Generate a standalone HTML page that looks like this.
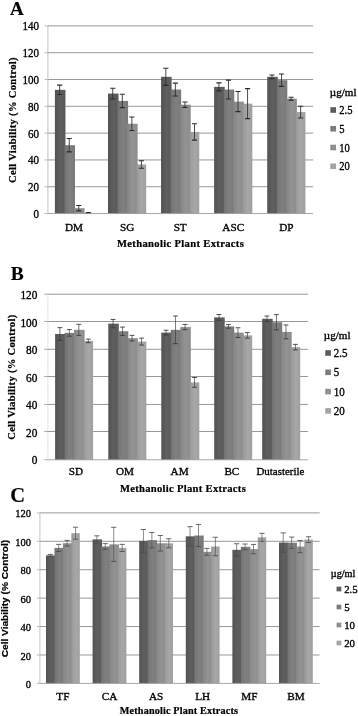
<!DOCTYPE html>
<html><head><meta charset="utf-8"><title>Cell viability</title>
<style>
html,body{margin:0;padding:0;background:#fff;}
body{width:358px;height:716px;overflow:hidden;}
svg{display:block;will-change:transform;filter:grayscale(1);}
text{font-family:"Liberation Serif",serif;fill:#000;stroke:#000;stroke-width:0.34px;}
.t{font-size:12px;}
.tc{font-size:11.2px;}
.c{font-size:11.2px;}
.xt{font-size:10.6px;font-weight:bold;stroke-width:0.22px;}
.xt2{font-size:10.2px;font-weight:bold;stroke-width:0.22px;}
.yt{font-size:10.6px;font-weight:bold;stroke-width:0.22px;}
.ys{font-family:"Liberation Sans",sans-serif;font-size:8.8px;font-weight:bold;stroke-width:0.2px;}
.L{stroke-width:0.15px;font-weight:bold;fill:#000;}
</style></head><body>
<svg width="358" height="716" viewBox="0 0 358 716">
<defs><linearGradient id="g0" x1="0" x2="1" y1="0" y2="0"><stop offset="0" stop-color="#525252"/><stop offset="0.5" stop-color="#5f5f5f"/><stop offset="1" stop-color="#595959"/></linearGradient><linearGradient id="g1" x1="0" x2="1" y1="0" y2="0"><stop offset="0" stop-color="#727272"/><stop offset="0.5" stop-color="#808080"/><stop offset="1" stop-color="#797979"/></linearGradient><linearGradient id="g2" x1="0" x2="1" y1="0" y2="0"><stop offset="0" stop-color="#858585"/><stop offset="0.5" stop-color="#939393"/><stop offset="1" stop-color="#8c8c8c"/></linearGradient><linearGradient id="g3" x1="0" x2="1" y1="0" y2="0"><stop offset="0" stop-color="#999999"/><stop offset="0.5" stop-color="#a7a7a7"/><stop offset="1" stop-color="#a0a0a0"/></linearGradient></defs>
<rect width="358" height="716" fill="#ffffff"/>
<line x1="47.90" y1="186.74" x2="313.20" y2="186.74" stroke="#6c6c6c" stroke-width="0.7"/>
<line x1="47.90" y1="159.93" x2="313.20" y2="159.93" stroke="#6c6c6c" stroke-width="0.7"/>
<line x1="47.90" y1="133.12" x2="313.20" y2="133.12" stroke="#6c6c6c" stroke-width="0.7"/>
<line x1="47.90" y1="106.31" x2="313.20" y2="106.31" stroke="#6c6c6c" stroke-width="0.7"/>
<line x1="47.90" y1="79.50" x2="313.20" y2="79.50" stroke="#6c6c6c" stroke-width="0.7"/>
<line x1="47.90" y1="52.69" x2="313.20" y2="52.69" stroke="#6c6c6c" stroke-width="0.7"/>
<line x1="47.90" y1="25.88" x2="313.20" y2="25.88" stroke="#6c6c6c" stroke-width="0.7"/>
<rect x="54.90" y="89.82" width="10.55" height="123.73" fill="url(#g0)"/>
<rect x="64.45" y="145.18" width="10.55" height="68.37" fill="url(#g1)"/>
<rect x="74.00" y="208.19" width="10.55" height="5.36" fill="url(#g2)"/>
<rect x="83.55" y="212.88" width="9.55" height="0.67" fill="url(#g3)"/>
<path d="M59.67 85.13V94.51" stroke="#2a2a2a" stroke-width="0.85" fill="none"/>
<path d="M57.12 85.13H62.22M57.12 94.51H62.22" stroke="#2a2a2a" stroke-width="1.10" fill="none"/>
<path d="M69.23 138.48V151.89" stroke="#2a2a2a" stroke-width="0.85" fill="none"/>
<path d="M66.68 138.48H71.78M66.68 151.89H71.78" stroke="#2a2a2a" stroke-width="1.10" fill="none"/>
<path d="M78.78 205.51V210.87" stroke="#2a2a2a" stroke-width="0.85" fill="none"/>
<path d="M76.23 205.51H81.33M76.23 210.87H81.33" stroke="#2a2a2a" stroke-width="1.10" fill="none"/>
<path d="M88.33 212.48V213.28" stroke="#2a2a2a" stroke-width="0.85" fill="none"/>
<path d="M85.78 212.48H90.88M85.78 213.28H90.88" stroke="#2a2a2a" stroke-width="1.10" fill="none"/>
<rect x="107.98" y="93.58" width="10.55" height="119.97" fill="url(#g0)"/>
<rect x="117.53" y="100.95" width="10.55" height="112.60" fill="url(#g1)"/>
<rect x="127.08" y="123.74" width="10.55" height="89.81" fill="url(#g2)"/>
<rect x="136.63" y="164.49" width="9.55" height="49.06" fill="url(#g3)"/>
<path d="M112.75 88.21V98.94" stroke="#2a2a2a" stroke-width="0.85" fill="none"/>
<path d="M110.20 88.21H115.30M110.20 98.94H115.30" stroke="#2a2a2a" stroke-width="1.10" fill="none"/>
<path d="M122.30 94.25V107.65" stroke="#2a2a2a" stroke-width="0.85" fill="none"/>
<path d="M119.75 94.25H124.85M119.75 107.65H124.85" stroke="#2a2a2a" stroke-width="1.10" fill="none"/>
<path d="M131.85 117.03V130.44" stroke="#2a2a2a" stroke-width="0.85" fill="none"/>
<path d="M129.30 117.03H134.41M129.30 130.44H134.41" stroke="#2a2a2a" stroke-width="1.10" fill="none"/>
<path d="M141.41 160.73V168.24" stroke="#2a2a2a" stroke-width="0.85" fill="none"/>
<path d="M138.85 160.73H143.96M138.85 168.24H143.96" stroke="#2a2a2a" stroke-width="1.10" fill="none"/>
<rect x="161.06" y="76.82" width="10.55" height="136.73" fill="url(#g0)"/>
<rect x="170.61" y="89.55" width="10.55" height="124.00" fill="url(#g1)"/>
<rect x="180.16" y="104.70" width="10.55" height="108.85" fill="url(#g2)"/>
<rect x="189.71" y="131.91" width="9.55" height="81.64" fill="url(#g3)"/>
<path d="M165.84 68.24V85.40" stroke="#2a2a2a" stroke-width="0.85" fill="none"/>
<path d="M163.28 68.24H168.39M163.28 85.40H168.39" stroke="#2a2a2a" stroke-width="1.10" fill="none"/>
<path d="M175.39 83.12V95.99" stroke="#2a2a2a" stroke-width="0.85" fill="none"/>
<path d="M172.84 83.12H177.94M172.84 95.99H177.94" stroke="#2a2a2a" stroke-width="1.10" fill="none"/>
<path d="M184.94 102.02V107.38" stroke="#2a2a2a" stroke-width="0.85" fill="none"/>
<path d="M182.38 102.02H187.49M182.38 107.38H187.49" stroke="#2a2a2a" stroke-width="1.10" fill="none"/>
<path d="M194.49 123.74V140.09" stroke="#2a2a2a" stroke-width="0.85" fill="none"/>
<path d="M191.94 123.74H197.04M191.94 140.09H197.04" stroke="#2a2a2a" stroke-width="1.10" fill="none"/>
<rect x="214.14" y="86.87" width="10.55" height="126.68" fill="url(#g0)"/>
<rect x="223.69" y="89.55" width="10.55" height="124.00" fill="url(#g1)"/>
<rect x="233.24" y="101.62" width="10.55" height="111.93" fill="url(#g2)"/>
<rect x="242.79" y="103.63" width="9.55" height="109.92" fill="url(#g3)"/>
<path d="M218.92 82.85V90.89" stroke="#2a2a2a" stroke-width="0.85" fill="none"/>
<path d="M216.37 82.85H221.47M216.37 90.89H221.47" stroke="#2a2a2a" stroke-width="1.10" fill="none"/>
<path d="M228.47 80.17V98.94" stroke="#2a2a2a" stroke-width="0.85" fill="none"/>
<path d="M225.92 80.17H231.02M225.92 98.94H231.02" stroke="#2a2a2a" stroke-width="1.10" fill="none"/>
<path d="M238.02 91.56V111.67" stroke="#2a2a2a" stroke-width="0.85" fill="none"/>
<path d="M235.47 91.56H240.57M235.47 111.67H240.57" stroke="#2a2a2a" stroke-width="1.10" fill="none"/>
<path d="M247.57 88.62V118.64" stroke="#2a2a2a" stroke-width="0.85" fill="none"/>
<path d="M245.02 88.62H250.12M245.02 118.64H250.12" stroke="#2a2a2a" stroke-width="1.10" fill="none"/>
<rect x="267.22" y="76.82" width="10.55" height="136.73" fill="url(#g0)"/>
<rect x="276.77" y="80.17" width="10.55" height="133.38" fill="url(#g1)"/>
<rect x="286.32" y="98.67" width="10.55" height="114.88" fill="url(#g2)"/>
<rect x="295.87" y="112.07" width="9.55" height="101.48" fill="url(#g3)"/>
<path d="M271.99 74.94V78.70" stroke="#2a2a2a" stroke-width="0.85" fill="none"/>
<path d="M269.44 74.94H274.54M269.44 78.70H274.54" stroke="#2a2a2a" stroke-width="1.10" fill="none"/>
<path d="M281.54 74.00V86.34" stroke="#2a2a2a" stroke-width="0.85" fill="none"/>
<path d="M278.99 74.00H284.09M278.99 86.34H284.09" stroke="#2a2a2a" stroke-width="1.10" fill="none"/>
<path d="M291.09 97.19V100.14" stroke="#2a2a2a" stroke-width="0.85" fill="none"/>
<path d="M288.54 97.19H293.64M288.54 100.14H293.64" stroke="#2a2a2a" stroke-width="1.10" fill="none"/>
<path d="M300.64 106.18V117.97" stroke="#2a2a2a" stroke-width="0.85" fill="none"/>
<path d="M298.09 106.18H303.19M298.09 117.97H303.19" stroke="#2a2a2a" stroke-width="1.10" fill="none"/>
<line x1="47.90" y1="25.88" x2="47.90" y2="213.55" stroke="#b4b4b4" stroke-width="0.8"/>
<line x1="47.90" y1="213.55" x2="313.20" y2="213.55" stroke="#9c9c9c" stroke-width="0.9"/>
<line x1="44.70" y1="213.55" x2="47.90" y2="213.55" stroke="#b0b0b0" stroke-width="0.9"/>
<text x="38.90" y="218.00" text-anchor="end" class="t" textLength="5.50" lengthAdjust="spacingAndGlyphs">0</text>
<line x1="44.70" y1="186.74" x2="47.90" y2="186.74" stroke="#b0b0b0" stroke-width="0.9"/>
<text x="38.90" y="191.35" text-anchor="end" class="t" textLength="11.00" lengthAdjust="spacingAndGlyphs">20</text>
<line x1="44.70" y1="159.93" x2="47.90" y2="159.93" stroke="#b0b0b0" stroke-width="0.9"/>
<text x="38.90" y="164.35" text-anchor="end" class="t" textLength="11.00" lengthAdjust="spacingAndGlyphs">40</text>
<line x1="44.70" y1="133.12" x2="47.90" y2="133.12" stroke="#b0b0b0" stroke-width="0.9"/>
<text x="38.90" y="137.75" text-anchor="end" class="t" textLength="11.00" lengthAdjust="spacingAndGlyphs">60</text>
<line x1="44.70" y1="106.31" x2="47.90" y2="106.31" stroke="#b0b0b0" stroke-width="0.9"/>
<text x="38.90" y="110.75" text-anchor="end" class="t" textLength="11.00" lengthAdjust="spacingAndGlyphs">80</text>
<line x1="44.70" y1="79.50" x2="47.90" y2="79.50" stroke="#b0b0b0" stroke-width="0.9"/>
<text x="38.90" y="83.75" text-anchor="end" class="t" textLength="16.50" lengthAdjust="spacingAndGlyphs">100</text>
<line x1="44.70" y1="52.69" x2="47.90" y2="52.69" stroke="#b0b0b0" stroke-width="0.9"/>
<text x="38.90" y="56.95" text-anchor="end" class="t" textLength="16.50" lengthAdjust="spacingAndGlyphs">120</text>
<line x1="44.70" y1="25.88" x2="47.90" y2="25.88" stroke="#b0b0b0" stroke-width="0.9"/>
<text x="38.90" y="30.00" text-anchor="end" class="t" textLength="16.50" lengthAdjust="spacingAndGlyphs">140</text>
<text x="74.00" y="230.80" text-anchor="middle" class="c">DM</text>
<text x="127.08" y="230.80" text-anchor="middle" class="c">SG</text>
<text x="180.16" y="230.80" text-anchor="middle" class="c">ST</text>
<text x="233.24" y="230.80" text-anchor="middle" class="c">ASC</text>
<text x="286.32" y="230.80" text-anchor="middle" class="c">DP</text>
<text x="117.00" y="246.70" class="xt" textLength="126.8" lengthAdjust="spacing">Methanolic Plant Extracts</text>
<text transform="translate(16.20 183.00) rotate(-90)" class="yt" textLength="125.6" lengthAdjust="spacing">Cell Viability (% Control)</text>
<text x="10.00" y="15.20" class="L" font-size="19">A</text>
<text x="329.80" y="95.90" font-size="10.4" textLength="26.7" lengthAdjust="spacingAndGlyphs">µg/ml</text>
<rect x="330.40" y="107.20" width="5.6" height="5.6" fill="url(#g0)"/>
<text x="339.30" y="114.00" class="t" textLength="13.25" lengthAdjust="spacingAndGlyphs">2.5</text>
<rect x="330.40" y="125.95" width="5.6" height="5.6" fill="url(#g1)"/>
<text x="339.30" y="132.75" class="t" textLength="5.30" lengthAdjust="spacingAndGlyphs">5</text>
<rect x="330.40" y="144.70" width="5.6" height="5.6" fill="url(#g2)"/>
<text x="339.30" y="151.50" class="t" textLength="10.60" lengthAdjust="spacingAndGlyphs">10</text>
<rect x="330.40" y="163.45" width="5.6" height="5.6" fill="url(#g3)"/>
<text x="339.30" y="170.25" class="t" textLength="10.60" lengthAdjust="spacingAndGlyphs">20</text>
<line x1="47.90" y1="431.50" x2="308.00" y2="431.50" stroke="#6c6c6c" stroke-width="0.7"/>
<line x1="47.90" y1="404.45" x2="308.00" y2="404.45" stroke="#6c6c6c" stroke-width="0.7"/>
<line x1="47.90" y1="376.50" x2="308.00" y2="376.50" stroke="#6c6c6c" stroke-width="0.7"/>
<line x1="47.90" y1="349.30" x2="308.00" y2="349.30" stroke="#6c6c6c" stroke-width="0.7"/>
<line x1="47.90" y1="321.50" x2="308.00" y2="321.50" stroke="#6c6c6c" stroke-width="0.7"/>
<line x1="47.90" y1="294.20" x2="308.00" y2="294.20" stroke="#6c6c6c" stroke-width="0.7"/>
<rect x="55.10" y="333.99" width="10.50" height="125.81" fill="url(#g0)"/>
<rect x="64.60" y="332.89" width="10.50" height="126.91" fill="url(#g1)"/>
<rect x="74.10" y="329.85" width="10.50" height="129.95" fill="url(#g2)"/>
<rect x="83.60" y="340.91" width="9.50" height="118.89" fill="url(#g3)"/>
<path d="M59.85 327.63V340.35" stroke="#383838" stroke-width="0.68" fill="none"/>
<path d="M57.45 327.63H62.25M57.45 340.35H62.25" stroke="#383838" stroke-width="0.88" fill="none"/>
<path d="M69.35 329.57V336.20" stroke="#383838" stroke-width="0.68" fill="none"/>
<path d="M66.95 329.57H71.75M66.95 336.20H71.75" stroke="#383838" stroke-width="0.88" fill="none"/>
<path d="M78.85 324.32V335.38" stroke="#383838" stroke-width="0.68" fill="none"/>
<path d="M76.45 324.32H81.25M76.45 335.38H81.25" stroke="#383838" stroke-width="0.88" fill="none"/>
<path d="M88.35 339.11V342.70" stroke="#383838" stroke-width="0.68" fill="none"/>
<path d="M85.95 339.11H90.75M85.95 342.70H90.75" stroke="#383838" stroke-width="0.88" fill="none"/>
<rect x="108.30" y="323.62" width="10.50" height="136.18" fill="url(#g0)"/>
<rect x="117.80" y="331.23" width="10.50" height="128.57" fill="url(#g1)"/>
<rect x="127.30" y="338.14" width="10.50" height="121.66" fill="url(#g2)"/>
<rect x="136.80" y="341.60" width="9.50" height="118.20" fill="url(#g3)"/>
<path d="M113.05 319.48V327.77" stroke="#383838" stroke-width="0.68" fill="none"/>
<path d="M110.65 319.48H115.45M110.65 327.77H115.45" stroke="#383838" stroke-width="0.88" fill="none"/>
<path d="M122.55 327.08V335.38" stroke="#383838" stroke-width="0.68" fill="none"/>
<path d="M120.15 327.08H124.95M120.15 335.38H124.95" stroke="#383838" stroke-width="0.88" fill="none"/>
<path d="M132.05 335.38V340.91" stroke="#383838" stroke-width="0.68" fill="none"/>
<path d="M129.65 335.38H134.45M129.65 340.91H134.45" stroke="#383838" stroke-width="0.88" fill="none"/>
<path d="M141.55 338.14V345.05" stroke="#383838" stroke-width="0.68" fill="none"/>
<path d="M139.15 338.14H143.95M139.15 345.05H143.95" stroke="#383838" stroke-width="0.88" fill="none"/>
<rect x="161.30" y="332.61" width="10.50" height="127.19" fill="url(#g0)"/>
<rect x="170.80" y="329.85" width="10.50" height="129.95" fill="url(#g1)"/>
<rect x="180.30" y="327.08" width="10.50" height="132.72" fill="url(#g2)"/>
<rect x="189.80" y="382.38" width="9.50" height="77.42" fill="url(#g3)"/>
<path d="M166.05 330.26V334.96" stroke="#383838" stroke-width="0.68" fill="none"/>
<path d="M163.65 330.26H168.45M163.65 334.96H168.45" stroke="#383838" stroke-width="0.88" fill="none"/>
<path d="M175.55 316.02V343.67" stroke="#383838" stroke-width="0.68" fill="none"/>
<path d="M173.15 316.02H177.95M173.15 343.67H177.95" stroke="#383838" stroke-width="0.88" fill="none"/>
<path d="M185.05 324.45V329.71" stroke="#383838" stroke-width="0.68" fill="none"/>
<path d="M182.65 324.45H187.45M182.65 329.71H187.45" stroke="#383838" stroke-width="0.88" fill="none"/>
<path d="M194.55 377.54V387.22" stroke="#383838" stroke-width="0.68" fill="none"/>
<path d="M192.15 377.54H196.95M192.15 387.22H196.95" stroke="#383838" stroke-width="0.88" fill="none"/>
<rect x="214.20" y="317.40" width="10.50" height="142.40" fill="url(#g0)"/>
<rect x="223.70" y="326.39" width="10.50" height="133.41" fill="url(#g1)"/>
<rect x="233.20" y="332.61" width="10.50" height="127.19" fill="url(#g2)"/>
<rect x="242.70" y="335.38" width="9.50" height="124.43" fill="url(#g3)"/>
<path d="M218.95 314.50V320.31" stroke="#383838" stroke-width="0.68" fill="none"/>
<path d="M216.55 314.50H221.35M216.55 320.31H221.35" stroke="#383838" stroke-width="0.88" fill="none"/>
<path d="M228.45 324.59V328.19" stroke="#383838" stroke-width="0.68" fill="none"/>
<path d="M226.05 324.59H230.85M226.05 328.19H230.85" stroke="#383838" stroke-width="0.88" fill="none"/>
<path d="M237.95 327.77V337.45" stroke="#383838" stroke-width="0.68" fill="none"/>
<path d="M235.55 327.77H240.35M235.55 337.45H240.35" stroke="#383838" stroke-width="0.88" fill="none"/>
<path d="M247.45 332.61V338.14" stroke="#383838" stroke-width="0.68" fill="none"/>
<path d="M245.05 332.61H249.85M245.05 338.14H249.85" stroke="#383838" stroke-width="0.88" fill="none"/>
<rect x="262.20" y="318.79" width="10.50" height="141.01" fill="url(#g0)"/>
<rect x="271.70" y="322.24" width="10.50" height="137.56" fill="url(#g1)"/>
<rect x="281.20" y="331.92" width="10.50" height="127.88" fill="url(#g2)"/>
<rect x="290.70" y="347.13" width="9.50" height="112.67" fill="url(#g3)"/>
<path d="M266.95 316.02V321.55" stroke="#383838" stroke-width="0.68" fill="none"/>
<path d="M264.55 316.02H269.35M264.55 321.55H269.35" stroke="#383838" stroke-width="0.88" fill="none"/>
<path d="M276.45 314.64V329.85" stroke="#383838" stroke-width="0.68" fill="none"/>
<path d="M274.05 314.64H278.85M274.05 329.85H278.85" stroke="#383838" stroke-width="0.88" fill="none"/>
<path d="M285.95 325.01V338.83" stroke="#383838" stroke-width="0.68" fill="none"/>
<path d="M283.55 325.01H288.35M283.55 338.83H288.35" stroke="#383838" stroke-width="0.88" fill="none"/>
<path d="M295.45 344.36V349.89" stroke="#383838" stroke-width="0.68" fill="none"/>
<path d="M293.05 344.36H297.85M293.05 349.89H297.85" stroke="#383838" stroke-width="0.88" fill="none"/>
<line x1="47.90" y1="293.90" x2="47.90" y2="459.80" stroke="#c4c4c4" stroke-width="0.8" stroke-dasharray="1 0.7"/>
<line x1="47.90" y1="459.80" x2="308.00" y2="459.80" stroke="#9c9c9c" stroke-width="0.9"/>
<line x1="44.30" y1="459.80" x2="47.90" y2="459.80" stroke="#9c9c9c" stroke-width="0.9"/>
<text x="37.40" y="464.15" text-anchor="end" class="t" textLength="5.65" lengthAdjust="spacingAndGlyphs">0</text>
<line x1="44.30" y1="431.50" x2="47.90" y2="431.50" stroke="#9c9c9c" stroke-width="0.9"/>
<text x="37.40" y="436.65" text-anchor="end" class="t" textLength="11.30" lengthAdjust="spacingAndGlyphs">20</text>
<line x1="44.30" y1="404.45" x2="47.90" y2="404.45" stroke="#9c9c9c" stroke-width="0.9"/>
<text x="37.40" y="409.15" text-anchor="end" class="t" textLength="11.30" lengthAdjust="spacingAndGlyphs">40</text>
<line x1="44.30" y1="376.50" x2="47.90" y2="376.50" stroke="#9c9c9c" stroke-width="0.9"/>
<text x="37.40" y="381.65" text-anchor="end" class="t" textLength="11.30" lengthAdjust="spacingAndGlyphs">60</text>
<line x1="44.30" y1="349.30" x2="47.90" y2="349.30" stroke="#9c9c9c" stroke-width="0.9"/>
<text x="37.40" y="354.15" text-anchor="end" class="t" textLength="11.30" lengthAdjust="spacingAndGlyphs">80</text>
<line x1="44.30" y1="321.50" x2="47.90" y2="321.50" stroke="#9c9c9c" stroke-width="0.9"/>
<text x="37.40" y="326.65" text-anchor="end" class="t" textLength="16.95" lengthAdjust="spacingAndGlyphs">100</text>
<line x1="44.30" y1="294.20" x2="47.90" y2="294.20" stroke="#9c9c9c" stroke-width="0.9"/>
<text x="37.40" y="299.15" text-anchor="end" class="t" textLength="16.95" lengthAdjust="spacingAndGlyphs">120</text>
<text x="76.00" y="474.80" text-anchor="middle" class="c">SD</text>
<text x="124.90" y="474.80" text-anchor="middle" class="c">OM</text>
<text x="179.60" y="474.80" text-anchor="middle" class="c">AM</text>
<text x="231.85" y="474.80" text-anchor="middle" class="c">BC</text>
<text x="280.45" y="474.80" text-anchor="middle" class="c" textLength="48.0" lengthAdjust="spacingAndGlyphs">Dutasterile</text>
<text x="120.00" y="492.30" class="xt" textLength="125.8" lengthAdjust="spacing">Methanolic Plant Extracts</text>
<text transform="translate(14.90 439.80) rotate(-90)" class="yt" textLength="125.0" lengthAdjust="spacing">Cell Viability (% Control)</text>
<text x="10.80" y="279.70" class="L" font-size="19.5">B</text>
<text x="323.80" y="338.50" font-size="10.4" textLength="26.7" lengthAdjust="spacingAndGlyphs">µg/ml</text>
<rect x="325.30" y="350.20" width="5.6" height="5.6" fill="url(#g0)"/>
<text x="333.80" y="357.00" class="t" textLength="13.75" lengthAdjust="spacingAndGlyphs">2.5</text>
<rect x="325.30" y="369.50" width="5.6" height="5.6" fill="url(#g1)"/>
<text x="333.80" y="376.30" class="t" textLength="5.50" lengthAdjust="spacingAndGlyphs">5</text>
<rect x="325.30" y="388.80" width="5.6" height="5.6" fill="url(#g2)"/>
<text x="333.80" y="395.60" class="t" textLength="11.00" lengthAdjust="spacingAndGlyphs">10</text>
<rect x="325.30" y="408.10" width="5.6" height="5.6" fill="url(#g3)"/>
<text x="333.80" y="414.90" class="t" textLength="11.00" lengthAdjust="spacingAndGlyphs">20</text>
<line x1="39.90" y1="654.98" x2="319.70" y2="654.98" stroke="#6c6c6c" stroke-width="0.7"/>
<line x1="39.90" y1="626.56" x2="319.70" y2="626.56" stroke="#6c6c6c" stroke-width="0.7"/>
<line x1="39.90" y1="598.14" x2="319.70" y2="598.14" stroke="#6c6c6c" stroke-width="0.7"/>
<line x1="39.90" y1="569.72" x2="319.70" y2="569.72" stroke="#6c6c6c" stroke-width="0.7"/>
<line x1="39.90" y1="541.30" x2="319.70" y2="541.30" stroke="#6c6c6c" stroke-width="0.7"/>
<line x1="39.90" y1="512.88" x2="319.70" y2="512.88" stroke="#6c6c6c" stroke-width="0.7"/>
<rect x="46.00" y="555.44" width="9.45" height="127.96" fill="url(#g0)"/>
<rect x="54.45" y="547.91" width="9.45" height="135.49" fill="url(#g1)"/>
<rect x="62.90" y="543.22" width="9.45" height="140.18" fill="url(#g2)"/>
<rect x="71.35" y="533.20" width="8.45" height="150.20" fill="url(#g3)"/>
<path d="M50.23 554.44V556.43" stroke="#484848" stroke-width="0.64" fill="none"/>
<path d="M47.62 554.44H52.83M47.62 556.43H52.83" stroke="#484848" stroke-width="0.83" fill="none"/>
<path d="M58.68 544.36V551.46" stroke="#484848" stroke-width="0.64" fill="none"/>
<path d="M56.08 544.36H61.28M56.08 551.46H61.28" stroke="#484848" stroke-width="0.83" fill="none"/>
<path d="M67.12 540.38V546.06" stroke="#484848" stroke-width="0.64" fill="none"/>
<path d="M64.53 540.38H69.72M64.53 546.06H69.72" stroke="#484848" stroke-width="0.83" fill="none"/>
<path d="M75.57 527.23V539.17" stroke="#484848" stroke-width="0.64" fill="none"/>
<path d="M72.97 527.23H78.17M72.97 539.17H78.17" stroke="#484848" stroke-width="0.83" fill="none"/>
<rect x="92.60" y="539.38" width="9.45" height="144.02" fill="url(#g0)"/>
<rect x="101.05" y="546.49" width="9.45" height="136.91" fill="url(#g1)"/>
<rect x="109.50" y="544.36" width="9.45" height="139.04" fill="url(#g2)"/>
<rect x="117.95" y="547.91" width="8.45" height="135.49" fill="url(#g3)"/>
<path d="M96.82 535.83V542.93" stroke="#484848" stroke-width="0.64" fill="none"/>
<path d="M94.22 535.83H99.42M94.22 542.93H99.42" stroke="#484848" stroke-width="0.83" fill="none"/>
<path d="M105.27 543.64V549.33" stroke="#484848" stroke-width="0.64" fill="none"/>
<path d="M102.67 543.64H107.87M102.67 549.33H107.87" stroke="#484848" stroke-width="0.83" fill="none"/>
<path d="M113.72 527.30V561.41" stroke="#484848" stroke-width="0.64" fill="none"/>
<path d="M111.12 527.30H116.32M111.12 561.41H116.32" stroke="#484848" stroke-width="0.83" fill="none"/>
<path d="M122.17 544.36V551.46" stroke="#484848" stroke-width="0.64" fill="none"/>
<path d="M119.57 544.36H124.77M119.57 551.46H124.77" stroke="#484848" stroke-width="0.83" fill="none"/>
<rect x="139.20" y="540.87" width="9.45" height="142.53" fill="url(#g0)"/>
<rect x="147.65" y="540.16" width="9.45" height="143.24" fill="url(#g1)"/>
<rect x="156.10" y="543.29" width="9.45" height="140.11" fill="url(#g2)"/>
<rect x="164.55" y="543.29" width="8.45" height="140.11" fill="url(#g3)"/>
<path d="M143.42 529.51V552.24" stroke="#484848" stroke-width="0.64" fill="none"/>
<path d="M140.82 529.51H146.02M140.82 552.24H146.02" stroke="#484848" stroke-width="0.83" fill="none"/>
<path d="M151.87 532.49V547.84" stroke="#484848" stroke-width="0.64" fill="none"/>
<path d="M149.27 532.49H154.47M149.27 547.84H154.47" stroke="#484848" stroke-width="0.83" fill="none"/>
<path d="M160.32 535.47V551.10" stroke="#484848" stroke-width="0.64" fill="none"/>
<path d="M157.72 535.47H162.92M157.72 551.10H162.92" stroke="#484848" stroke-width="0.83" fill="none"/>
<path d="M168.77 538.74V547.84" stroke="#484848" stroke-width="0.64" fill="none"/>
<path d="M166.17 538.74H171.37M166.17 547.84H171.37" stroke="#484848" stroke-width="0.83" fill="none"/>
<rect x="185.80" y="536.33" width="9.45" height="147.07" fill="url(#g0)"/>
<rect x="194.25" y="535.54" width="9.45" height="147.86" fill="url(#g1)"/>
<rect x="202.70" y="551.82" width="9.45" height="131.58" fill="url(#g2)"/>
<rect x="211.15" y="546.49" width="8.45" height="136.91" fill="url(#g3)"/>
<path d="M190.03 526.66V545.99" stroke="#484848" stroke-width="0.64" fill="none"/>
<path d="M187.43 526.66H192.62M187.43 545.99H192.62" stroke="#484848" stroke-width="0.83" fill="none"/>
<path d="M198.47 524.46V546.63" stroke="#484848" stroke-width="0.64" fill="none"/>
<path d="M195.88 524.46H201.07M195.88 546.63H201.07" stroke="#484848" stroke-width="0.83" fill="none"/>
<path d="M206.93 548.40V555.23" stroke="#484848" stroke-width="0.64" fill="none"/>
<path d="M204.33 548.40H209.53M204.33 555.23H209.53" stroke="#484848" stroke-width="0.83" fill="none"/>
<path d="M215.38 537.25V555.72" stroke="#484848" stroke-width="0.64" fill="none"/>
<path d="M212.78 537.25H217.97M212.78 555.72H217.97" stroke="#484848" stroke-width="0.83" fill="none"/>
<rect x="232.40" y="549.83" width="9.45" height="133.57" fill="url(#g0)"/>
<rect x="240.85" y="546.84" width="9.45" height="136.56" fill="url(#g1)"/>
<rect x="249.30" y="549.12" width="9.45" height="134.28" fill="url(#g2)"/>
<rect x="257.75" y="537.32" width="8.45" height="146.08" fill="url(#g3)"/>
<path d="M236.62 543.72V555.94" stroke="#484848" stroke-width="0.64" fill="none"/>
<path d="M234.03 543.72H239.22M234.03 555.94H239.22" stroke="#484848" stroke-width="0.83" fill="none"/>
<path d="M245.07 544.00V549.68" stroke="#484848" stroke-width="0.64" fill="none"/>
<path d="M242.47 544.00H247.67M242.47 549.68H247.67" stroke="#484848" stroke-width="0.83" fill="none"/>
<path d="M253.53 544.43V553.80" stroke="#484848" stroke-width="0.64" fill="none"/>
<path d="M250.93 544.43H256.12M250.93 553.80H256.12" stroke="#484848" stroke-width="0.83" fill="none"/>
<path d="M261.98 533.34V541.30" stroke="#484848" stroke-width="0.64" fill="none"/>
<path d="M259.38 533.34H264.58M259.38 541.30H264.58" stroke="#484848" stroke-width="0.83" fill="none"/>
<rect x="279.00" y="542.58" width="9.45" height="140.82" fill="url(#g0)"/>
<rect x="287.45" y="542.72" width="9.45" height="140.68" fill="url(#g1)"/>
<rect x="295.90" y="546.56" width="9.45" height="136.84" fill="url(#g2)"/>
<rect x="304.35" y="539.59" width="8.45" height="143.81" fill="url(#g3)"/>
<path d="M283.23 532.92V552.24" stroke="#484848" stroke-width="0.64" fill="none"/>
<path d="M280.62 532.92H285.83M280.62 552.24H285.83" stroke="#484848" stroke-width="0.83" fill="none"/>
<path d="M291.68 537.04V548.40" stroke="#484848" stroke-width="0.64" fill="none"/>
<path d="M289.07 537.04H294.28M289.07 548.40H294.28" stroke="#484848" stroke-width="0.83" fill="none"/>
<path d="M300.12 540.45V552.67" stroke="#484848" stroke-width="0.64" fill="none"/>
<path d="M297.52 540.45H302.73M297.52 552.67H302.73" stroke="#484848" stroke-width="0.83" fill="none"/>
<path d="M308.58 536.75V542.44" stroke="#484848" stroke-width="0.64" fill="none"/>
<path d="M305.98 536.75H311.18M305.98 542.44H311.18" stroke="#484848" stroke-width="0.83" fill="none"/>
<line x1="39.90" y1="512.88" x2="39.90" y2="683.40" stroke="#b4b4b4" stroke-width="0.8"/>
<line x1="39.90" y1="683.40" x2="319.70" y2="683.40" stroke="#9c9c9c" stroke-width="0.9"/>
<line x1="37.00" y1="683.40" x2="39.90" y2="683.40" stroke="#b0b0b0" stroke-width="0.9"/>
<text x="30.90" y="687.95" text-anchor="end" class="tc" textLength="5.25" lengthAdjust="spacingAndGlyphs">0</text>
<line x1="37.00" y1="654.98" x2="39.90" y2="654.98" stroke="#b0b0b0" stroke-width="0.9"/>
<text x="30.90" y="659.53" text-anchor="end" class="tc" textLength="10.50" lengthAdjust="spacingAndGlyphs">20</text>
<line x1="37.00" y1="626.56" x2="39.90" y2="626.56" stroke="#b0b0b0" stroke-width="0.9"/>
<text x="30.90" y="631.11" text-anchor="end" class="tc" textLength="10.50" lengthAdjust="spacingAndGlyphs">40</text>
<line x1="37.00" y1="598.14" x2="39.90" y2="598.14" stroke="#b0b0b0" stroke-width="0.9"/>
<text x="30.90" y="602.69" text-anchor="end" class="tc" textLength="10.50" lengthAdjust="spacingAndGlyphs">60</text>
<line x1="37.00" y1="569.72" x2="39.90" y2="569.72" stroke="#b0b0b0" stroke-width="0.9"/>
<text x="30.90" y="574.27" text-anchor="end" class="tc" textLength="10.50" lengthAdjust="spacingAndGlyphs">80</text>
<line x1="37.00" y1="541.30" x2="39.90" y2="541.30" stroke="#b0b0b0" stroke-width="0.9"/>
<text x="30.90" y="545.85" text-anchor="end" class="tc" textLength="15.75" lengthAdjust="spacingAndGlyphs">100</text>
<line x1="37.00" y1="512.88" x2="39.90" y2="512.88" stroke="#b0b0b0" stroke-width="0.9"/>
<text x="30.90" y="517.43" text-anchor="end" class="tc" textLength="15.75" lengthAdjust="spacingAndGlyphs">120</text>
<text x="62.90" y="699.90" text-anchor="middle" class="c">TF</text>
<text x="109.50" y="699.90" text-anchor="middle" class="c">CA</text>
<text x="156.10" y="699.90" text-anchor="middle" class="c">AS</text>
<text x="202.70" y="699.90" text-anchor="middle" class="c">LH</text>
<text x="249.30" y="699.90" text-anchor="middle" class="c">MF</text>
<text x="295.90" y="699.90" text-anchor="middle" class="c">BM</text>
<text x="119.80" y="713.50" class="xt2" textLength="118.2" lengthAdjust="spacing">Methanolic Plant Extracts</text>
<text transform="translate(8.30 657.30) rotate(-90)" class="ys" textLength="117.4" lengthAdjust="spacingAndGlyphs">Cell Viability (% Control)</text>
<text x="10.30" y="501.90" class="L" font-size="20.5">C</text>
<text x="330.80" y="577.10" font-size="9.8" textLength="24.6" lengthAdjust="spacingAndGlyphs">µg/ml</text>
<rect x="336.60" y="586.65" width="4.7" height="4.7" fill="url(#g0)"/>
<text x="344.20" y="593.00" class="tc" textLength="13.50" lengthAdjust="spacingAndGlyphs">2.5</text>
<rect x="336.60" y="604.65" width="4.7" height="4.7" fill="url(#g1)"/>
<text x="344.20" y="611.00" class="tc" textLength="5.40" lengthAdjust="spacingAndGlyphs">5</text>
<rect x="336.60" y="622.65" width="4.7" height="4.7" fill="url(#g2)"/>
<text x="344.20" y="629.00" class="tc" textLength="10.80" lengthAdjust="spacingAndGlyphs">10</text>
<rect x="336.60" y="640.65" width="4.7" height="4.7" fill="url(#g3)"/>
<text x="344.20" y="647.00" class="tc" textLength="10.80" lengthAdjust="spacingAndGlyphs">20</text>
</svg>
</body></html>
